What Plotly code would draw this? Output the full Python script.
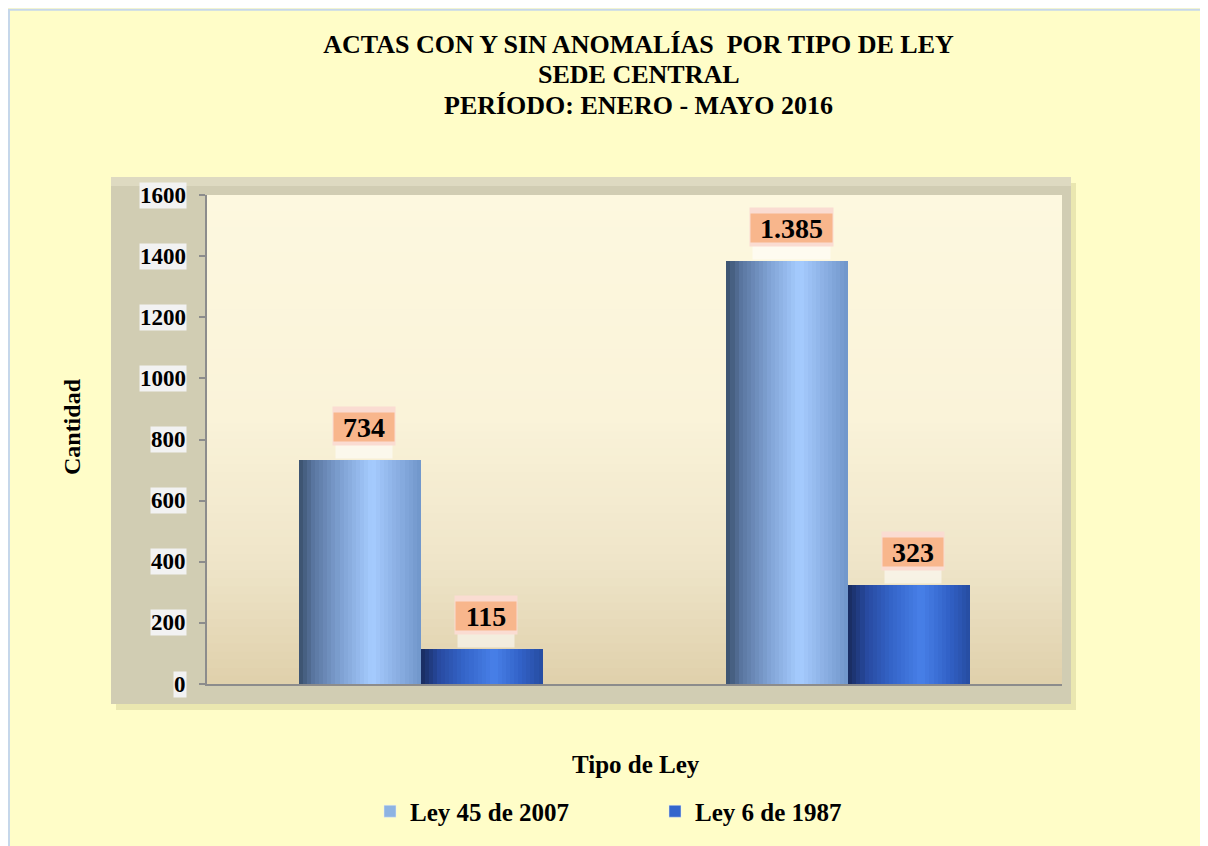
import plotly.graph_objects as go

# ---------------- data ----------------
categories = ["Grupo 1", "Grupo 2"]
series_names = ["Ley 45 de 2007", "Ley 6 de 1987"]
ley45_values = [734, 1385]
ley6_values = [115, 323]
y_tick_values = [0, 200, 400, 600, 800, 1000, 1200, 1400, 1600]
y_tick_labels = ["0", "200", "400", "600", "800", "1000", "1200", "1400", "1600"]

title_lines = ["ACTAS CON Y SIN ANOMALÍAS  POR TIPO DE LEY", "SEDE CENTRAL",
               "PERÍODO: ENERO - MAYO 2016"]
x_title = "Tipo de Ley"
y_title = "Cantidad"

FONT = "Liberation Serif"
legend_colors = ["#8DB3E2", "#3366CC"]

# horizontal gradient stops (position across bar width, color) for each series
grad45 = [(0.0, (58, 80, 108)), (0.12, (90, 118, 160)), (0.35, (128, 162, 212)),
          (0.6, (166, 204, 255)), (0.8, (140, 176, 228)), (1.0, (112, 150, 202))]
grad6 = [(0.0, (24, 42, 92)), (0.15, (40, 74, 160)), (0.35, (52, 100, 200)),
         (0.6, (72, 128, 232)), (0.82, (50, 98, 200)), (1.0, (38, 76, 160))]


def interp(stops, t):
    for (p0, c0), (p1, c1) in zip(stops[:-1], stops[1:]):
        if p0 <= t <= p1:
            f = (t - p0) / (p1 - p0) if p1 > p0 else 0
            return "rgb(%d,%d,%d)" % tuple(round(a + (b - a) * f) for a, b in zip(c0, c1))
    return "rgb(%d,%d,%d)" % stops[-1][1]


fig = go.Figure()

BAR_W = 0.285
N = 30
for s_idx, (vals, stops) in enumerate([(ley45_values, grad45), (ley6_values, grad6)]):
    base = -BAR_W if s_idx == 0 else 0.0
    for k in range(N):
        t = (k + 0.5) / N
        fig.add_trace(go.Bar(
            x=categories, y=vals,
            width=BAR_W / N * 1.05, offset=base + BAR_W * k / N,
            marker=dict(color=interp(stops, t), line=dict(width=0)),
            showlegend=False, hoverinfo="skip", legendgroup=series_names[s_idx],
        ))

# legend entries
for name, col in zip(series_names, legend_colors):
    fig.add_trace(go.Bar(x=[categories[0]], y=[None], name="<b>%s</b>" % name,
                         marker=dict(color=col), legendgroup=name, showlegend=True))

# ---------------- geometry (screen px -> figure; page body margin = 8px) ----------------
OFF = 8
W, H = 1200, 838
L, R, T, B = 207, 1062, 195, 686   # plot area in screen px
pw, ph = R - L, B - T


def px_x(x):
    return (x - L) / pw


def px_y(y):
    return (B - y) / ph


shapes = []
# page border (left / top / right)
shapes.append(dict(type="rect", xref="paper", yref="paper",
                   x0=px_x(OFF + 1), x1=px_x(1206), y0=px_y(900), y1=px_y(OFF + 1),
                   line=dict(color="#C6D7EA", width=2), layer="below"))
# shadow of the frame
shapes.append(dict(type="rect", xref="paper", yref="paper",
                   x0=px_x(116), x1=px_x(1076), y0=px_y(712), y1=px_y(183),
                   fillcolor="#EAE7B0", line=dict(width=0), layer="below"))
# 3D frame (walls)
shapes.append(dict(type="rect", xref="paper", yref="paper",
                   x0=px_x(111), x1=px_x(1071), y0=px_y(706), y1=px_y(177),
                   fillcolor="#D1CDB3", line=dict(width=0), layer="below"))
shapes.append(dict(type="rect", xref="paper", yref="paper",
                   x0=px_x(111), x1=px_x(1071), y0=px_y(186), y1=px_y(177),
                   fillcolor="#DEDAC1", line=dict(width=0), layer="below"))
# plot-area vertical gradient
bg_stops = [(0.0, (253, 248, 223)), (0.45, (250, 243, 217)), (0.75, (239, 229, 201)),
            (1.0, (223, 208, 171))]
NB = 60
for k in range(NB):
    t0, t1 = k / NB, (k + 1) / NB
    shapes.append(dict(type="rect", xref="paper", yref="paper",
                       x0=0, x1=1, y0=1 - t1 - 0.002, y1=1 - t0,
                       fillcolor=interp(bg_stops, (t0 + t1) / 2), line=dict(width=0),
                       layer="below"))

annotations = []
# subtitle lines
for line, ypx in zip(title_lines[1:], [74, 105]):
    annotations.append(dict(x=px_x(638.5), xref="paper", y=px_y(ypx), yref="paper",
                            xanchor="center", yanchor="middle", showarrow=False,
                            text="<b>%s</b>" % line,
                            font=dict(family=FONT, size=26, color="black")))
# axis titles
annotations.append(dict(x=px_x(72), xref="paper", y=px_y(428), yref="paper",
                        xanchor="center", yanchor="middle", textangle=-90, showarrow=False,
                        text="<b>%s</b>" % y_title,
                        font=dict(family=FONT, size=24, color="black")))
annotations.append(dict(x=px_x(635.5), xref="paper", y=px_y(767), yref="paper",
                        xanchor="center", yanchor="middle", showarrow=False,
                        text="<b>%s</b>" % x_title,
                        font=dict(family=FONT, size=25, color="black")))
# y tick labels with light boxes
for v, lab in zip(y_tick_values, y_tick_labels):
    annotations.append(dict(x=px_x(187), xref="paper", y=v, yref="y",
                            xanchor="right", yanchor="middle", text="<b>%s</b>" % lab,
                            showarrow=False, bgcolor="#F2F2F2", borderpad=0,
                            font=dict(family=FONT, size=23, color="black")))


def label_width(txt):
    return sum(14 if c.isdigit() else 7 for c in txt) + 18


# data labels
for s_idx, vals in enumerate([ley45_values, ley6_values]):
    off = -BAR_W / 2 if s_idx == 0 else BAR_W / 2
    for i, v in enumerate(vals):
        txt = "{:,}".format(v).replace(",", ".")
        w = label_width(txt)
        # soft white glow between label and bar
        annotations.append(dict(x=i + off, xref="x", y=v, yref="y", xshift=4,
                                yanchor="bottom", yshift=1, text=" ", showarrow=False,
                                bgcolor="rgba(255,255,255,0.55)", width=w - 6, height=16,
                                font=dict(family=FONT, size=8)))
        # pinkish outer box
        annotations.append(dict(x=i + off, xref="x", y=v, yref="y", xshift=4,
                                yanchor="bottom", yshift=14, text=" ", showarrow=False,
                                bgcolor="#FADCD2", width=w, height=36,
                                font=dict(family=FONT, size=8)))
        # orange core with text
        annotations.append(dict(x=i + off, xref="x", y=v, yref="y", xshift=4,
                                yanchor="bottom", yshift=18, text="<b>%s</b>" % txt,
                                showarrow=False, bgcolor="#F8B68C", width=w, height=28,
                                borderpad=0,
                                font=dict(family=FONT, size=28, color="black")))

fig.update_layout(
    width=W, height=H,
    margin=dict(l=L - OFF, r=W - (R - OFF), t=T - OFF, b=H - (B - OFF)),
    paper_bgcolor="#FFFDC8",
    plot_bgcolor="rgba(0,0,0,0)",
    barmode="overlay",
    title=dict(text="<b>%s</b>" % title_lines[0],
               x=(638.5 - OFF) / W, xanchor="center", y=1 - (44 - OFF) / H,
               yanchor="middle",
               font=dict(family=FONT, size=26, color="black")),
    xaxis=dict(range=[-0.5, 1.5], showticklabels=False, ticks="", showgrid=False,
               zeroline=False, showline=True, linecolor="#8C8C8C", linewidth=2),
    yaxis=dict(range=[0, 1600], tickvals=y_tick_values, showticklabels=False,
               ticks="outside", ticklen=6, tickwidth=2, tickcolor="#8C8C8C",
               showgrid=False, zeroline=False, showline=True, linecolor="#8C8C8C",
               linewidth=2),
    legend=dict(orientation="h", x=px_x(370), xanchor="left", y=px_y(814),
                yanchor="middle", entrywidth=240, entrywidthmode="pixels",
                font=dict(family=FONT, size=25, color="black"),
                bgcolor="rgba(0,0,0,0)", itemclick=False, itemdoubleclick=False),
    shapes=shapes,
    annotations=annotations,
    bargap=0,
)

fig.write_html("out.html")
